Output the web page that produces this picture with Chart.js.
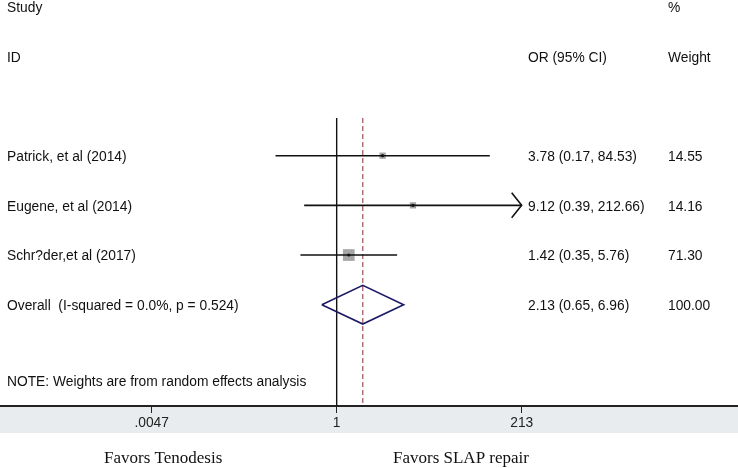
<!DOCTYPE html>
<html>
<head>
<meta charset="utf-8">
<script src="https://cdn.jsdelivr.net/npm/chart.js@4"></script>
<style>
  html, body { margin: 0; padding: 0; background: #fff; }
  #wrap { width: 738px; height: 468px; }
</style>
</head>
<body>
<div id="wrap"><canvas id="forest"></canvas></div>
<script>
// Study data
const studies = ["Patrick, et al (2014)", "Eugene, et al (2014)", "Schr?der,et al (2017)"];
const oddsRatio = [3.78, 9.12, 1.42];
const ciLow = [0.17, 0.39, 0.35];
const ciHigh = [84.53, 212.66, 5.76];
const weights = [14.55, 14.16, 71.30];

// Pooled estimate
const overallLabel = "Overall  (I-squared = 0.0%, p = 0.524)";
const overallOR = [2.13];
const overallCI = [0.65, 6.96];
const overallWeight = [100.00];

// Axis
const xTicks = [0.0047, 1, 213];
const xTickLabels = [".0047", "1", "213"];

// layout (rows counted from the top header line)
const studyRows = [3, 4, 5];
const overallRow = 6;
const noteRow = 7.54;
const refTop = 2.24;
const diamondHalf = 0.39;
const FONT = '"Liberation Sans", Arial, sans-serif';

const ink = "#111";

const datasets = [];

// point estimate dots
datasets.push({
  data: oddsRatio.map((v, i) => ({ x: v, y: studyRows[i] })),
  pointStyle: "circle", pointRadius: 1.6, backgroundColor: ink, borderWidth: 0, order: 0
});

// confidence intervals
studies.forEach((s, i) => {
  datasets.push({
    data: [{ x: ciLow[i], y: studyRows[i] }, { x: ciHigh[i], y: studyRows[i] }],
    showLine: true, borderColor: ink, borderWidth: 1.6, pointRadius: 0, order: 1
  });
});

// weight boxes (side grows with sqrt of weight)
datasets.push({
  data: oddsRatio.map((v, i) => ({ x: v, y: studyRows[i] })),
  pointStyle: "rect",
  pointRadius: weights.map(w => (1.86 + 1.166 * Math.sqrt(w)) / Math.SQRT2),
  backgroundColor: "#a6a6a6", borderWidth: 0, order: 2
});

// overall diamond
datasets.push({
  data: [
    { x: overallCI[0], y: overallRow },
    { x: overallOR[0], y: overallRow - diamondHalf },
    { x: overallCI[1], y: overallRow },
    { x: overallOR[0], y: overallRow + diamondHalf },
    { x: overallCI[0], y: overallRow }
  ],
  showLine: true, borderColor: "#1c1a66", borderWidth: 1.6, pointRadius: 0, tension: 0, order: 3
});

// no-effect line
datasets.push({
  data: [{ x: 1, y: refTop }, { x: 1, y: 8.04 }],
  showLine: true, borderColor: ink, borderWidth: 1.4, pointRadius: 0, order: 4
});

// pooled estimate line
datasets.push({
  data: [{ x: overallOR[0], y: refTop }, { x: overallOR[0], y: 8.04 }],
  showLine: true, borderColor: "#a0505a", borderWidth: 1.2, borderDash: [5, 3], pointRadius: 0, order: 5
});

const forestText = {
  id: "forestText",
  beforeDraw(chart) {
    const { ctx, chartArea } = chart;
    ctx.save();
    ctx.fillStyle = "#e8ecef";
    ctx.fillRect(0, chartArea.bottom, chart.width, 27);
    ctx.restore();
  },
  afterDraw(chart) {
    const { ctx } = chart;
    const xs = chart.scales.x, ys = chart.scales.y;
    ctx.save();

    // arrows for intervals running off the axis
    ctx.strokeStyle = ink;
    ctx.lineWidth = 1.6;
    ciHigh.forEach((v, i) => {
      if (Math.round(v) < xTicks[2]) return;
      const px = xs.getPixelForValue(v), py = ys.getPixelForValue(studyRows[i]);
      ctx.beginPath();
      ctx.moveTo(px - 10, py - 12.5);
      ctx.lineTo(px, py);
      ctx.lineTo(px - 10, py + 12.5);
      ctx.stroke();
    });

    ctx.fillStyle = ink;
    ctx.font = "13.8px " + FONT;
    ctx.textBaseline = "middle";
    const text = (s, x, row) => ctx.fillText(s, x, ys.getPixelForValue(row) + 1.5);
    text("Study", 7, 0);
    text("%", 668, 0);
    text("ID", 7, 1);
    text("OR (95% CI)", 528, 1);
    text("Weight", 668, 1);
    studies.forEach((s, i) => {
      text(s, 7, studyRows[i]);
      text(`${oddsRatio[i].toFixed(2)} (${ciLow[i].toFixed(2)}, ${ciHigh[i].toFixed(2)})`, 528, studyRows[i]);
      text(weights[i].toFixed(2), 668, studyRows[i]);
    });
    text(overallLabel, 7, overallRow);
    text(`${overallOR[0].toFixed(2)} (${overallCI[0].toFixed(2)}, ${overallCI[1].toFixed(2)})`, 528, overallRow);
    text(overallWeight[0].toFixed(2), 668, overallRow);
    text("NOTE: Weights are from random effects analysis", 7, noteRow);

    ctx.font = '17px "Liberation Serif", "Times New Roman", serif';
    ctx.fillText("Favors Tenodesis", 104, 459);
    ctx.fillText("Favors SLAP repair", 393, 459);
    ctx.restore();
  }
};

new Chart(document.getElementById("forest"), {
  type: "scatter",
  data: { datasets },
  plugins: [forestText],
  options: {
    responsive: true,
    maintainAspectRatio: false,
    animation: false,
    events: [],
    layout: { autoPadding: false, padding: { left: 0, right: 1, top: 0, bottom: 35 } },
    plugins: { legend: { display: false }, tooltip: { enabled: false } },
    scales: {
      x: {
        type: "logarithmic",
        min: 5.8e-5,
        max: 1.09e5,
        afterBuildTicks: s => { s.ticks = xTicks.map(v => ({ value: v })); },
        afterFit: s => { s.height = 27; },
        ticks: {
          callback: (v, i) => xTickLabels[i],
          autoSkip: false, maxRotation: 0, padding: 2,
          color: "#222", font: { family: FONT, size: 13.8 }
        },
        grid: { drawOnChartArea: false, tickLength: 7, color: "#222" },
        border: { color: "#222", width: 2 }
      },
      y: {
        type: "linear", display: false, reverse: true,
        min: -0.135, max: 8.04
      }
    }
  }
});
</script>
</body>
</html>
